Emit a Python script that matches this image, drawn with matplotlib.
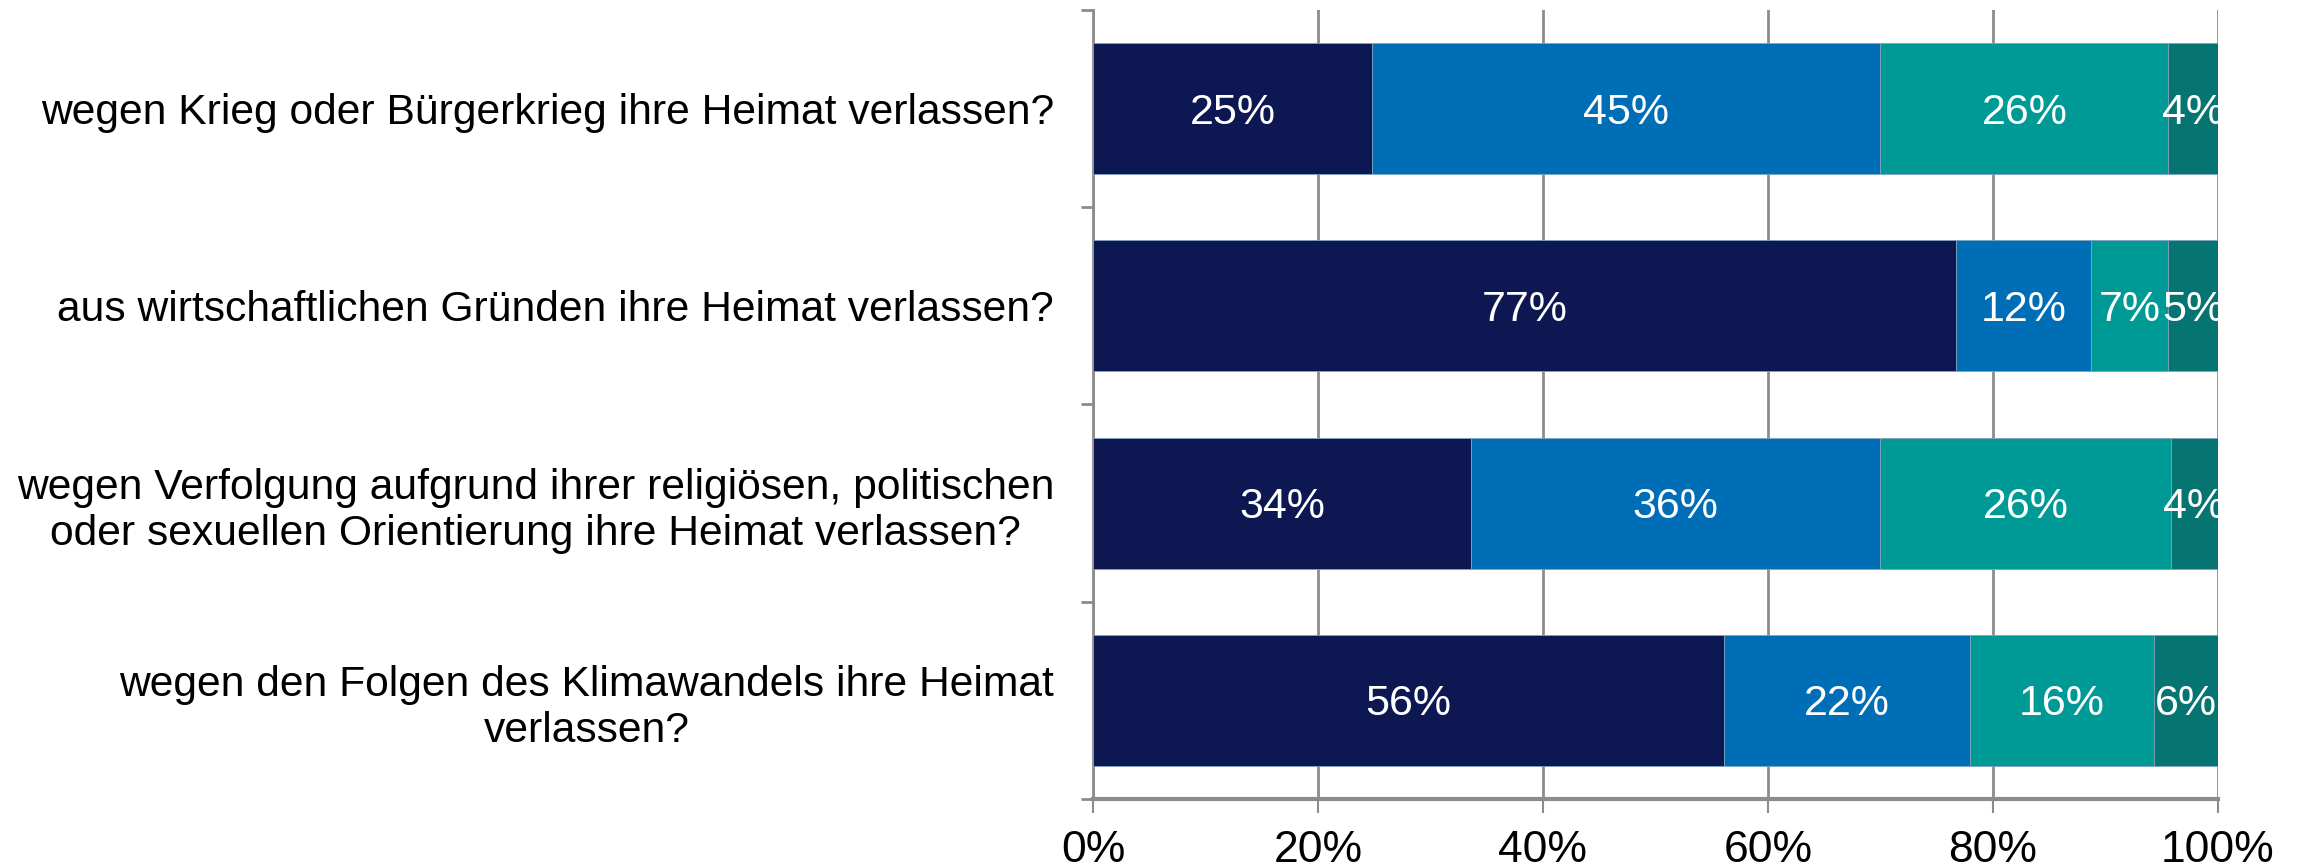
import numpy as np
import matplotlib
matplotlib.use("Agg")
import matplotlib.pyplot as plt

plt.rcParams['font.family'] = ['Liberation Sans', 'DejaVu Sans']

# Frage: Würden Sie Menschen aufnehmen, die ...
categories = [
    "wegen Krieg oder Bürgerkrieg ihre Heimat verlassen?",
    "aus wirtschaftlichen Gründen ihre Heimat verlassen?",
    "wegen Verfolgung aufgrund ihrer religiösen, politischen\noder sexuellen Orientierung ihre Heimat verlassen?",
    "wegen den Folgen des Klimawandels ihre Heimat\nverlassen?",
]

# segment widths (percent)
seg1 = [24.8, 76.7, 33.6, 56.1]
seg2 = [45.2, 12.0, 36.4, 21.9]
seg3 = [25.6, 6.9, 25.8, 16.3]
seg4 = [4.4, 4.4, 4.2, 5.7]
# labels as printed
lab1 = [25, 77, 34, 56]
lab2 = [45, 12, 36, 22]
lab3 = [26, 7, 26, 16]
lab4 = [4, 5, 4, 6]

colors = ['#0d1752', '#006eb7', '#009a96', '#067471']

fig = plt.figure(figsize=(23, 8.67), dpi=100)
ax = fig.add_axes([0.4752, 0.0784, 0.4891, 0.9101])

y = np.arange(len(categories))
left = np.zeros(len(categories))
for vals, labs, c in zip([seg1, seg2, seg3, seg4], [lab1, lab2, lab3, lab4], colors):
    ax.barh(y, vals, left=left, height=0.665, color=c,
            edgecolor='#7fa3c0', linewidth=0.6, zorder=3)
    for yi, l, v, lb in zip(y, left, vals, labs):
        ax.text(l + v / 2, yi + 0.02, f"{lb}%", ha='center', va='center',
                color='white', fontsize=31, zorder=4)
    left = left + np.array(vals)

ax.set_xlim(0, 100)
ax.set_ylim(3.5, -0.5)
ax.set_xticks(np.arange(0, 101, 20))
ax.set_xticklabels([f"{t}%" for t in range(0, 101, 20)], fontsize=32)
ax.set_yticks([-0.5, 0.5, 1.5, 2.5, 3.5])
ax.set_yticklabels([])
ax.set_yticks(y, minor=True)
ax.set_yticklabels(categories, minor=True, fontsize=30.7, multialignment='center')
ax.tick_params(axis='y', which='minor', length=0, pad=28)
ax.tick_params(axis='y', which='major', length=9, width=2, color='#8c8c8c', direction='out')
ax.tick_params(axis='x', length=10, width=1.5, color='#8c8c8c', pad=12)

ax.grid(axis='x', color='#8c8c8c', linewidth=2, zorder=0)
for s in ['top', 'right']:
    ax.spines[s].set_visible(False)
ax.spines['left'].set_color('#8c8c8c')
ax.spines['left'].set_linewidth(2)
ax.spines['bottom'].set_color('#8c8c8c')
ax.spines['bottom'].set_linewidth(3)

fig.savefig('out.png', dpi=100)
